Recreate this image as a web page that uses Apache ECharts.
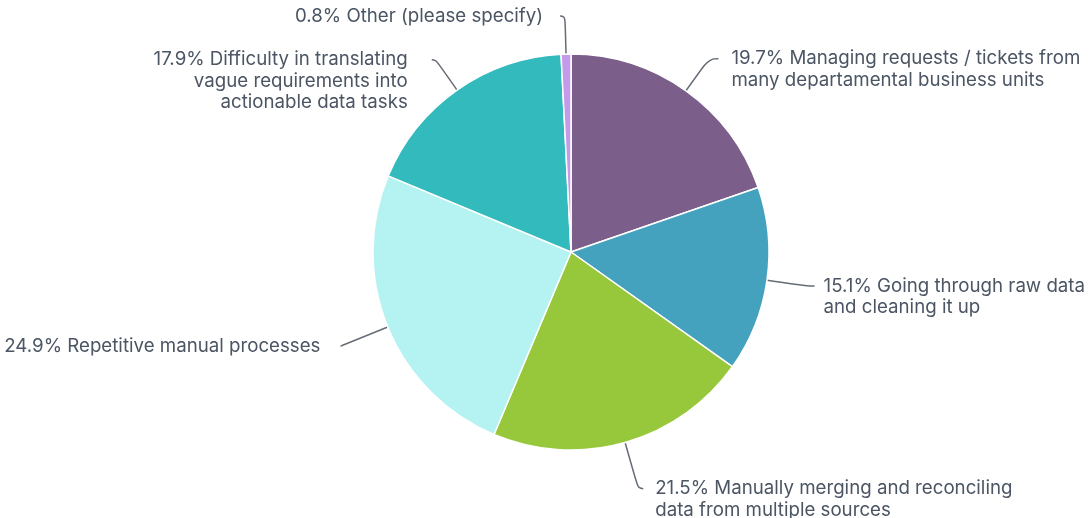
<!DOCTYPE html>
<html>
<head>
<meta charset="utf-8">
<script src="https://cdn.jsdelivr.net/npm/echarts@6/dist/echarts.min.js"></script>
<style>
  html, body { margin: 0; padding: 0; background: #fff; }
  #chart { width: 1092px; height: 518px; }
</style>
</head>
<body>
<div id="chart"></div>
<script>
// slices clockwise from 12 o'clock
const categories = [
  'Managing requests / tickets from\nmany departamental business units',
  'Going through raw data\nand cleaning it up',
  'Manually merging and reconciling\ndata from multiple sources',
  'Repetitive manual processes',
  'Difficulty in translating\nvague requirements into\nactionable data tasks',
  'Other (please specify)'
];
const shares = [19.7, 15.1, 21.5, 24.9, 17.9, 0.8];
const colors = ['#7B5E8A', '#45A2BF', '#97C73A', '#B5F2F2', '#33BABD', '#C49BEB'];

// label line lengths / gap to text, per slice
const lineLen = [39.5, 40, 48, 50, 37, 38];
const lineLen2 = [9.5, 8, 5, 1, 4, 5];
const labelGap = [13, 9, 12, 20, 24, 17];

const chart = echarts.init(document.getElementById('chart'));
const option = {
  animation: false,
  series: [{
    type: 'pie',
    center: [571, 252],
    radius: 198,
    startAngle: 90,
    clockwise: true,
    avoidLabelOverlap: false,
    labelLayout: { hideOverlap: false },
    itemStyle: { borderColor: '#fff', borderWidth: 1.5 },
    label: {
      // leading blank lines keep the first text line level with the line end
      formatter: function (p) {
        const n = p.name.split('\n').length;
        return '\n'.repeat(n - 1) + p.value + '% ' + p.name;
      },
      color: '#4B5563',
      fontFamily: 'Inter',
      fontSize: 18.7,
      lineHeight: 21.5
    },
    labelLine: {
      smooth: 0.5,
      lineStyle: { color: '#666c75', width: 1.5 }
    },
    data: categories.map((name, i) => ({
      name: name,
      value: shares[i],
      itemStyle: { color: colors[i] },
      label: { distanceToLabelLine: labelGap[i] },
      labelLine: { length: lineLen[i], length2: lineLen2[i] }
    }))
  }]
};
chart.setOption(option);
</script>
</body>
</html>
